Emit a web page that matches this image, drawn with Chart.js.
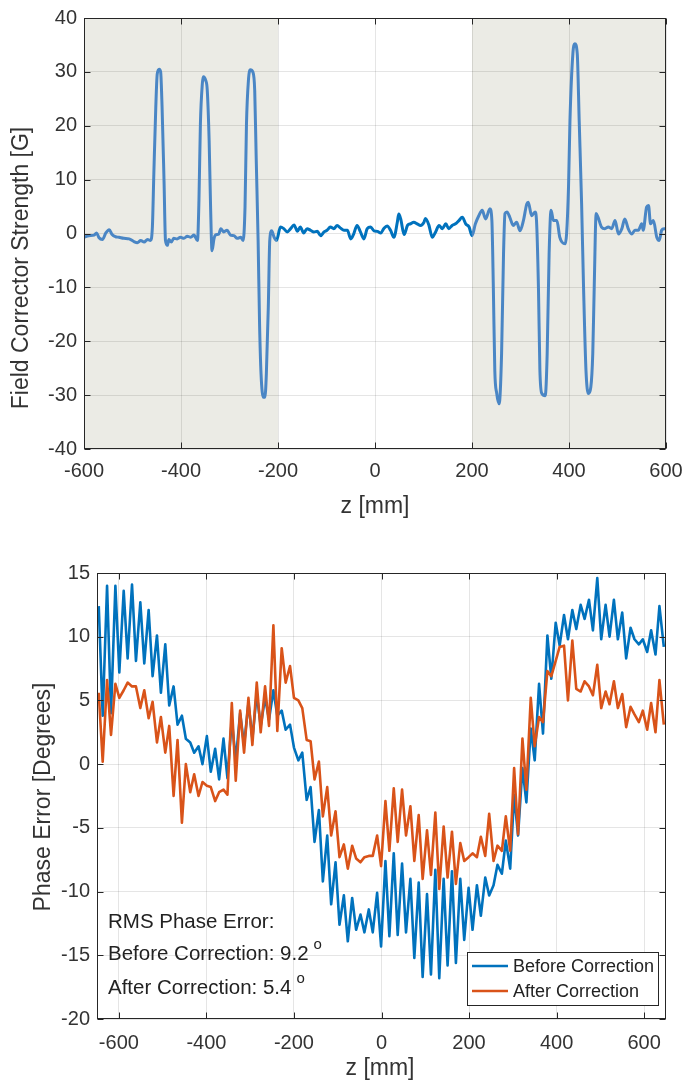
<!DOCTYPE html>
<html lang="en">
<head>
<meta charset="UTF-8">
<title>Field Corrector Strength / Phase Error</title>
<script src="https://cdn.jsdelivr.net/npm/chart.js@4.4.1/dist/chart.umd.min.js"></script>
<style>
  html, body { margin: 0; padding: 0; background: #fff; }
  #wrap { position: relative; width: 684px; height: 1080px; }
  canvas { position: absolute; left: 0; }
  #fieldChart { top: 0; }
  #phaseChart { top: 540px; }
</style>
</head>
<body>
<div id="wrap">
  <canvas id="fieldChart" width="684" height="540"></canvas>
  <canvas id="phaseChart" width="684" height="540"></canvas>
</div>

<script>
// ---- top panel: field corrector strength ----
const zField = [
  -600,-590,-579,-574,-569,-562,-555,-548,-542,-535,-528,-518,-507,-497,-490,-483,-476,-469,-463,
  -459,-456,-452,-449,-445,-442,-439,-435,-432,-428,-425,-420,-415,-408,-401,-394,-387,-380,-373,-366,
  -363,-360,-356,-354,-349,-346,-342,-339,-336,-332,-329,-322,-318,-312,-305,-298,-291,-284,-277,-272,
  -268,-265,-261,-257,-252,-248,-245,-241,-238,-235,-230,-227,-224,-220,-217,-213,-208,-203,
  -195,-188,-181,-174,-167,-160,-154,-147,-140,-133,-126,-119,-112,-105,-99,-92,-85,-78,-71,-64,-57,-50,-44,-37,-30,-23,-16,-9,-2,
  5,12,18,25,32,39,46,49,53,60,67,73,80,87,94,101,104,111,118,125,132,139,146,152,159,166,173,180,187,194,200,207,214,221,228,237,241,
  244,247,251,256,261,265,268,272,278,285,292,299,306,313,316,323,330,333,
  337,340,344,351,355,359,363,368,375,381,392,395,
  399,402,408,412,417,421,426,430,435,440,445,449,452,456,460,467,474,481,488,495,502,509,515,522,529,536,543,550,553,560,564,568,574,581,586,591,596,600
];
const fieldStrength = [
  -0.7,-0.4,-0.3,0.1,-0.8,-1.1,0.1,0.7,-0.2,-0.6,-0.7,-0.9,-1.0,-1.5,-1.7,-1.3,-1.6,-1.1,-1.3,
  1.2,11.1,23.4,29.6,30.5,30.0,23.4,9.8,-1.3,-2.2,-1.1,-1.6,-0.9,-1.0,-0.7,-0.9,-0.5,-0.7,-0.3,-1.3,
  6.1,20.3,27.8,29.1,28.4,26.8,17.3,4.9,-3.2,-1.0,-0.3,-0.1,0.9,0.3,0.6,-0.3,-0.4,-0.9,-0.7,-1.3,
  4.9,20.3,28.4,30.4,30.0,26.5,14.2,-1.3,-16.8,-26.0,-30.4,-30.4,-26.0,-13.7,-1.3,0.5,-0.7,-1.3,
  1.2,0.9,0.3,0.9,1.6,0.4,1.2,0.1,0.9,0.6,0.3,0.4,-0.4,0.3,0.6,1.2,0.9,1.5,1.0,0.6,0.6,-1.0,-0.1,1.5,0.3,-1.0,0.9,1.2,0.5,
  0.4,0.1,0.9,1.4,0.6,-0.7,2.1,3.6,2.7,-0.2,1.5,1.8,2.1,1.8,1.5,2.1,2.8,1.6,-0.7,0.3,1.5,0.9,1.8,0.9,1.5,1.8,2.4,3.0,1.8,1.2,-0.4,1.8,3.3,4.3,2.7,4.6,2.4,
  -10.0,-25.4,-29.7,-31.6,-22.3,-3.8,3.7,4.0,3.0,1.5,2.1,0.5,2.4,5.5,5.8,3.3,4.0,2.4,
  -10.0,-25.4,-29.7,-30.1,-22.3,-3.8,4.3,2.4,2.4,-0.7,-1.9,-0.1,
  8.6,21.0,33.4,35.2,33.4,21.0,5.5,-10.0,-25.4,-29.7,-28.5,-22.3,-10.0,3.7,3.0,1.2,0.9,1.2,0.9,2.4,-0.1,0.9,2.7,0.9,-0.1,0.6,0.6,1.8,0.6,4.9,5.2,1.8,2.4,-0.7,-1.3,0.6,0.9,0.9
];
const fieldXTicks = [-600, -400, -200, 0, 200, 400, 600];
const fieldYTicks = [-40, -30, -20, -10, 0, 10, 20, 30, 40];
const shadedRanges = [[-600, -200], [200, 600]];

// ---- bottom panel: phase error ----
const zPhase = [
  -646,-637,-627,-618,-608,-599,-589,-580,-570,-561,
  -551,-542,-532,-523,-513,-504,-494,-485,-475,-466,
  -456,-447,-437,-428,-418,-409,-399,-390,-380,-371,
  -361,-352,-342,-333,-323,-314,-304,-295,-285,-276,
  -266,-257,-247,-238,-228,-219,-209,-200,-190,-181,
  -171,-162,-153,-143,-134,-124,-115,-105,-96,-86,
  -77,-67,-58,-48,-39,-29,-20,-10,-1,9,
  18,28,37,47,56,66,75,85,94,104,
  113,123,132,142,151,161,170,180,189,199,
  208,218,227,237,246,256,265,275,284,294,
  303,312,322,331,341,350,360,369,379,388,
  398,407,417,426,436,445,455,464,474,483,
  493,502,512,521,531,540,550,559,569,578,
  588,597,607,616,626,635,645
];
const phaseBefore = [
  12.4,3.8,14.0,4.0,14.0,7.2,13.6,8.3,14.1,8.1,
  12.7,7.9,12.1,6.9,10.1,5.6,9.4,4.6,6.1,3.1,
  3.8,2.0,1.7,0.9,1.4,0.0,2.2,-0.6,1.2,-1.2,
  2.0,-1.1,3.5,0.3,4.0,1.5,4.8,2.0,5.5,3.0,
  5.2,3.5,5.8,3.8,4.2,2.7,3.1,1.3,0.3,0.9,
  -2.8,-1.8,-6.1,-3.6,-9.2,-5.6,-11.0,-7.7,-12.6,-10.3,
  -13.9,-10.5,-13.0,-11.8,-13.2,-11.4,-13.2,-10.1,-14.3,-7.6,
  -13.5,-7.0,-13.4,-7.8,-13.2,-9.0,-15.2,-9.3,-16.7,-10.2,
  -16.5,-8.3,-16.8,-9.0,-15.8,-8.4,-15.6,-9.0,-13.8,-9.7,
  -13.0,-9.5,-11.9,-8.9,-10.3,-9.5,-7.9,-8.6,-6.0,-8.2,
  -2.4,-5.6,-0.3,-3.0,2.8,0.3,6.3,2.4,10.1,6.7,
  11.1,9.3,11.7,9.8,12.1,10.6,12.5,11.4,12.9,10.5,
  14.6,9.8,12.5,10.0,12.9,9.8,11.9,8.3,10.7,9.8,
  9.4,9.8,8.8,10.5,8.6,12.4,9.2
];
const phaseAfter = [
  5.6,0.2,6.6,2.3,6.3,5.2,5.8,6.4,6.1,6.1,
  4.4,5.8,3.6,4.9,1.7,3.7,0.9,3.0,-2.5,1.9,
  -4.6,0.0,-2.2,-0.8,-2.5,-1.4,-1.7,-1.8,-2.9,-2.2,
  -2.0,-2.4,4.8,-1.3,4.2,0.9,5.2,1.5,6.4,2.5,
  6.1,3.0,10.9,2.6,9.1,6.4,7.7,5.2,5.0,4.4,
  1.9,1.8,-1.2,0.2,-4.1,-1.8,-5.6,-3.7,-7.3,-6.3,
  -8.2,-6.4,-7.4,-7.7,-7.3,-7.2,-7.2,-5.6,-8.0,-2.9,
  -6.8,-1.9,-6.1,-2.0,-5.6,-3.3,-7.6,-4.0,-9.0,-5.2,
  -8.7,-3.8,-9.8,-4.9,-8.9,-5.3,-9.4,-6.2,-7.6,-7.3,
  -7.0,-7.3,-5.7,-7.2,-3.9,-7.6,-6.4,-6.8,-4.1,-6.8,
  -0.3,-5.5,2.0,-2.0,5.2,1.4,3.7,3.3,7.3,6.9,
  8.1,9.2,9.3,5.0,9.7,5.9,5.7,6.5,6.1,5.4,
  7.8,4.4,5.7,4.7,6.5,4.4,5.5,2.9,4.5,3.9,
  3.3,4.2,2.7,4.8,2.5,6.6,3.1
];
const phaseXTicks = [-600, -400, -200, 0, 200, 400, 600];
const phaseYTicks = [-20, -15, -10, -5, 0, 5, 10, 15];
const seriesNames = ['Before Correction', 'After Correction'];
const rmsValues = [9.2, 5.4];

// ---- look ----
const FONT = "'Liberation Sans', Arial, Helvetica, sans-serif";
const BLUE = '#0072bd';
const BLUE_SHADED = '#4a86c5';
const ORANGE = '#d95319';
const DARK = '#262626';
const GRID = 'rgba(0,0,0,0.1)';

Chart.defaults.font.family = FONT;
Chart.defaults.color = '#333';
Chart.defaults.animation = false;

const toPoints = (xs, ys) => xs.map((x, i) => ({ x: x, y: ys[i] }));
const fixedTicks = values => scale => { scale.ticks = values.map(v => ({ value: v })); };
const inShade = z => shadedRanges.some(r => z >= r[0] && z <= r[1]);

// MATLAB-like box: inward ticks on all four sides, shaded bands, titles, notes
const matlabAxes = {
  id: 'matlabAxes',
  beforeDraw(chart, args, opts) {
    if (!opts.shade) return;
    const { ctx, chartArea: a, scales: { x } } = chart;
    ctx.save();
    ctx.fillStyle = opts.shadeColor;
    opts.shade.forEach(r => {
      const p0 = x.getPixelForValue(r[0]);
      const p1 = x.getPixelForValue(r[1]);
      ctx.fillRect(p0, a.top, p1 - p0, a.bottom - a.top);
    });
    ctx.restore();
  },
  afterDraw(chart, args, opts) {
    const { ctx, chartArea: a, scales: { x, y } } = chart;
    const L = Math.round(a.left) + 0.5, R = Math.round(a.right) - 0.5;
    const T = Math.round(a.top) + 0.5, B = Math.round(a.bottom) - 0.5;
    const len = 6;
    ctx.save();
    ctx.strokeStyle = DARK;
    ctx.lineWidth = 1;
    ctx.beginPath();
    x.ticks.forEach(t => {
      const px = Math.round(x.getPixelForValue(t.value)) + 0.5;
      ctx.moveTo(px, B); ctx.lineTo(px, B - len);
      ctx.moveTo(px, T); ctx.lineTo(px, T + len);
    });
    y.ticks.forEach(t => {
      const py = Math.round(y.getPixelForValue(t.value)) + 0.5;
      ctx.moveTo(L, py); ctx.lineTo(L + len, py);
      ctx.moveTo(R, py); ctx.lineTo(R - len, py);
    });
    ctx.stroke();
    ctx.strokeRect(L, T, R - L, B - T);

    // axis titles
    ctx.fillStyle = '#333';
    ctx.font = '23px ' + FONT;
    ctx.textAlign = 'center';
    ctx.textBaseline = 'middle';
    ctx.fillText(opts.xTitle.text, opts.xTitle.x, opts.xTitle.y);
    ctx.save();
    ctx.translate(opts.yTitle.x, opts.yTitle.y);
    ctx.rotate(-Math.PI / 2);
    ctx.fillText(opts.yTitle.text, 0, 0);
    ctx.restore();

    // text notes with a degree-style superscript
    if (opts.notes) {
      ctx.textAlign = 'left';
      ctx.fillStyle = '#222';
      opts.notes.forEach(n => {
        ctx.font = '20.5px ' + FONT;
        ctx.fillText(n.text, n.x, n.y);
        if (n.sup) {
          const w = ctx.measureText(n.text).width;
          ctx.font = '15px ' + FONT;
          ctx.fillText(n.sup, n.x + w + 5, n.y - 9);
        }
      });
    }

    // legend box
    if (opts.legend) {
      const lg = opts.legend;
      ctx.fillStyle = '#fff';
      ctx.fillRect(lg.x, lg.y, lg.w, lg.h);
      ctx.strokeStyle = DARK;
      ctx.strokeRect(lg.x + 0.5, lg.y + 0.5, lg.w, lg.h);
      ctx.font = '18px ' + FONT;
      ctx.textAlign = 'left';
      chart.data.datasets.forEach((ds, i) => {
        const ly = lg.y + lg.rowTop + i * lg.rowGap;
        ctx.strokeStyle = ds.borderColor;
        ctx.lineWidth = 2.6;
        ctx.beginPath();
        ctx.moveTo(lg.x + 5, ly);
        ctx.lineTo(lg.x + 41, ly);
        ctx.stroke();
        ctx.fillStyle = '#222';
        ctx.fillText(ds.label, lg.x + 46, ly + 1);
      });
    }
    ctx.restore();
  }
};

function scaleOptions(min, max, ticks, axisSize, horizontal, pad) {
  return {
    type: 'linear',
    min: min,
    max: max,
    afterBuildTicks: fixedTicks(ticks),
    afterFit: s => {
      // fixed axis size; let end labels overhang instead of shrinking the plot
      if (horizontal) { s.height = axisSize; s.paddingLeft = 0; s.paddingRight = 0; }
      else { s.width = axisSize; s.paddingTop = 0; s.paddingBottom = 0; }
    },
    grid: { color: GRID, drawTicks: false },
    border: { display: false },
    ticks: { autoSkip: false, maxRotation: 0, padding: pad, color: '#333', font: { size: 20 } }
  };
}

// top chart
new Chart(document.getElementById('fieldChart'), {
  type: 'line',
  data: {
    datasets: [{
      label: 'Field Corrector Strength',
      data: toPoints(zField, fieldStrength),
      borderColor: BLUE,
      borderWidth: 3,
      pointRadius: 0,
      cubicInterpolationMode: 'monotone',
      borderJoinStyle: 'round',
      segment: {
        borderColor: c => (inShade(c.p0.parsed.x) && inShade(c.p1.parsed.x)) ? BLUE_SHADED : BLUE
      }
    }]
  },
  options: {
    responsive: false,
    devicePixelRatio: 1,
    layout: { padding: { top: 18, right: 18, left: 0, bottom: 0 } },
    plugins: {
      legend: { display: false },
      tooltip: { enabled: false },
      matlabAxes: {
        shade: shadedRanges,
        shadeColor: '#ebebe5',
        xTitle: { text: 'z [mm]', x: 375, y: 507 },
        yTitle: { text: 'Field Corrector Strength [G]', x: 22, y: 268 }
      }
    },
    scales: {
      x: scaleOptions(-600, 600, fieldXTicks, 91, true, 10),
      y: scaleOptions(-40, 40, fieldYTicks, 84, false, 7)
    }
  },
  plugins: [matlabAxes]
});

// bottom chart
new Chart(document.getElementById('phaseChart'), {
  type: 'line',
  data: {
    datasets: [{
      label: seriesNames[0],
      data: toPoints(zPhase, phaseBefore),
      borderColor: BLUE,
      borderWidth: 2.6,
      pointRadius: 0,
      tension: 0,
      borderJoinStyle: 'round',
      order: 1
    }, {
      label: seriesNames[1],
      data: toPoints(zPhase, phaseAfter),
      borderColor: ORANGE,
      borderWidth: 2.6,
      pointRadius: 0,
      tension: 0,
      borderJoinStyle: 'round',
      order: 0
    }]
  },
  options: {
    responsive: false,
    devicePixelRatio: 1,
    layout: { padding: { top: 33, right: 18, left: 0, bottom: 0 } },
    plugins: {
      legend: { display: false },
      tooltip: { enabled: false },
      matlabAxes: {
        xTitle: { text: 'z [mm]', x: 380, y: 529 },
        yTitle: { text: 'Phase Error [Degrees]', x: 44, y: 257 },
        notes: [
          { text: 'RMS Phase Error:', x: 108, y: 382 },
          { text: 'Before Correction: ' + rmsValues[0], x: 108, y: 414, sup: 'o' },
          { text: 'After Correction: ' + rmsValues[1], x: 108, y: 448, sup: 'o' }
        ],
        legend: { x: 467, y: 412, w: 191, h: 53, rowTop: 14, rowGap: 25 }
      }
    },
    scales: {
      x: scaleOptions(-650, 650, phaseXTicks, 61, true, 12),
      y: scaleOptions(-20, 15, phaseYTicks, 97, false, 7)
    }
  },
  plugins: [matlabAxes]
});
</script>
</body>
</html>
